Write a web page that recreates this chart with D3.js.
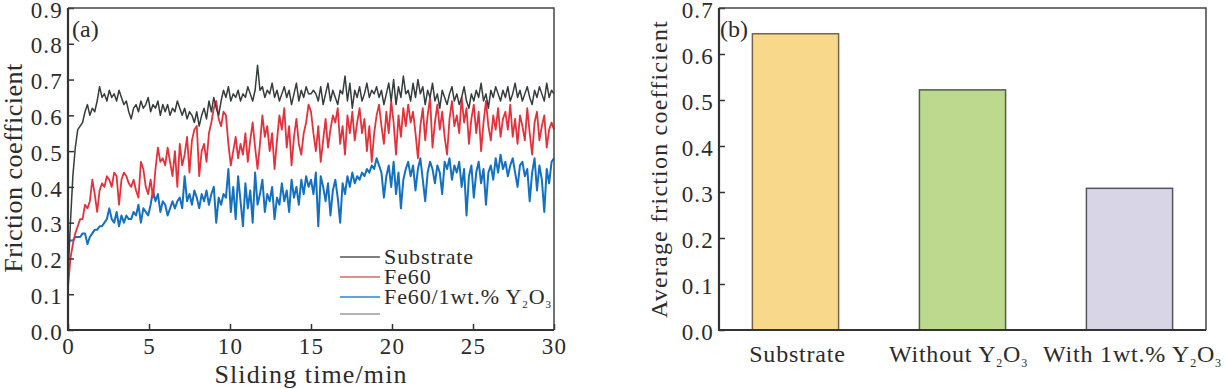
<!DOCTYPE html>
<html>
<head>
<meta charset="utf-8">
<title>Friction coefficient</title>
<script src="https://cdn.jsdelivr.net/npm/d3@7"></script>
<style>
    html, body { margin: 0; background: #fff; }
    svg { display: block; }
    text { font-family: "Liberation Serif", "Times New Roman", serif; fill: #2b2b2b; }
    .tick line { stroke: #333; stroke-width: 1.5; }
    .tick text { font-size: 23px; letter-spacing: 1.2px; }
</style>
</head>
<body>
<svg width="1226" height="389"></svg>
<script>
// (a) friction coefficient vs sliding time, one reading every 0.15 min
var timeStep = 0.15;

var substrate = [
    0.15, 0.30, 0.43, 0.51, 0.56, 0.57, 0.58, 0.61, 0.63, 0.60, 0.62, 0.61, 0.64, 0.68, 0.65, 0.66, 0.64, 0.67, 0.65, 0.66,
    0.64, 0.67, 0.65, 0.63, 0.64, 0.61, 0.59, 0.62, 0.63, 0.61, 0.64, 0.62, 0.63, 0.65, 0.61, 0.63, 0.62, 0.64, 0.60, 0.63,
    0.61, 0.63, 0.60, 0.62, 0.61, 0.64, 0.62, 0.60, 0.62, 0.59, 0.61, 0.60, 0.58, 0.61, 0.57, 0.60, 0.62, 0.59, 0.64, 0.61,
    0.65, 0.62, 0.60, 0.64, 0.67, 0.65, 0.68, 0.64, 0.66, 0.65, 0.67, 0.64, 0.66, 0.65, 0.68, 0.66, 0.64, 0.67, 0.74, 0.67,
    0.68, 0.65, 0.67, 0.66, 0.69, 0.65, 0.67, 0.64, 0.66, 0.68, 0.65, 0.67, 0.63, 0.66, 0.69, 0.64, 0.67, 0.65, 0.68, 0.66,
    0.66, 0.67, 0.66, 0.64, 0.68, 0.63, 0.66, 0.69, 0.64, 0.67, 0.65, 0.63, 0.67, 0.66, 0.71, 0.64, 0.69, 0.62, 0.67, 0.65,
    0.68, 0.64, 0.66, 0.69, 0.65, 0.67, 0.66, 0.68, 0.65, 0.67, 0.63, 0.66, 0.69, 0.64, 0.70, 0.63, 0.68, 0.65, 0.71, 0.66,
    0.67, 0.64, 0.69, 0.65, 0.70, 0.66, 0.68, 0.63, 0.67, 0.65, 0.69, 0.64, 0.66, 0.62, 0.67, 0.65, 0.63, 0.66, 0.68, 0.64,
    0.66, 0.63, 0.65, 0.68, 0.64, 0.62, 0.66, 0.64, 0.67, 0.65, 0.69, 0.64, 0.66, 0.62, 0.67, 0.65, 0.68, 0.66, 0.64, 0.67,
    0.65, 0.68, 0.64, 0.66, 0.69, 0.65, 0.67, 0.64, 0.66, 0.68, 0.65, 0.63, 0.67, 0.65, 0.68, 0.66, 0.64, 0.69, 0.65, 0.67,
    0.66
];

var fe60 = [
    0.12, 0.20, 0.24, 0.27, 0.29, 0.31, 0.31, 0.35, 0.34, 0.36, 0.42, 0.38, 0.33, 0.39, 0.41, 0.40, 0.43, 0.42, 0.40, 0.44,
    0.43, 0.35, 0.42, 0.44, 0.43, 0.41, 0.40, 0.42, 0.39, 0.37, 0.47, 0.45, 0.40, 0.38, 0.42, 0.37, 0.45, 0.51, 0.47, 0.48,
    0.46, 0.51, 0.47, 0.43, 0.50, 0.40, 0.52, 0.46, 0.49, 0.54, 0.44, 0.53, 0.56, 0.57, 0.43, 0.50, 0.52, 0.47, 0.55, 0.58,
    0.62, 0.64, 0.59, 0.57, 0.61, 0.60, 0.52, 0.46, 0.50, 0.54, 0.48, 0.52, 0.49, 0.55, 0.47, 0.53, 0.58, 0.51, 0.45, 0.52,
    0.60, 0.54, 0.57, 0.50, 0.55, 0.45, 0.53, 0.60, 0.56, 0.62, 0.51, 0.57, 0.46, 0.54, 0.59, 0.52, 0.49, 0.55, 0.58, 0.63,
    0.61, 0.55, 0.50, 0.57, 0.47, 0.53, 0.59, 0.51, 0.56, 0.60, 0.58, 0.62, 0.52, 0.57, 0.49, 0.60, 0.55, 0.61, 0.53, 0.58,
    0.62, 0.55, 0.59, 0.50, 0.57, 0.47, 0.55, 0.60, 0.63, 0.57, 0.52, 0.61, 0.55, 0.64, 0.58, 0.49, 0.60, 0.54, 0.62, 0.57,
    0.63, 0.58, 0.61, 0.55, 0.48, 0.57, 0.62, 0.53, 0.60, 0.65, 0.51, 0.58, 0.63, 0.56, 0.61, 0.54, 0.49, 0.59, 0.64, 0.57,
    0.60, 0.55, 0.65, 0.58, 0.62, 0.52, 0.59, 0.63, 0.55, 0.61, 0.50, 0.58, 0.64, 0.57, 0.53, 0.60, 0.56, 0.62, 0.54, 0.59,
    0.61, 0.56, 0.63, 0.54, 0.59, 0.52, 0.60, 0.57, 0.53, 0.62, 0.55, 0.49, 0.58, 0.61, 0.53, 0.57, 0.60, 0.51, 0.56, 0.58,
    0.56
];

var fe60Y2O3 = [
    0.25, 0.25, 0.25, 0.26, 0.26, 0.26, 0.27, 0.27, 0.24, 0.26, 0.27, 0.28, 0.28, 0.29, 0.29, 0.30, 0.31, 0.34, 0.31, 0.30,
    0.33, 0.29, 0.32, 0.30, 0.32, 0.31, 0.31, 0.33, 0.32, 0.35, 0.30, 0.34, 0.33, 0.32, 0.35, 0.39, 0.36, 0.38, 0.33, 0.36,
    0.35, 0.32, 0.34, 0.36, 0.34, 0.36, 0.37, 0.34, 0.43, 0.36, 0.38, 0.35, 0.39, 0.37, 0.34, 0.38, 0.36, 0.39, 0.35, 0.38,
    0.40, 0.30, 0.37, 0.35, 0.38, 0.37, 0.45, 0.33, 0.40, 0.31, 0.43, 0.36, 0.29, 0.41, 0.34, 0.39, 0.30, 0.44, 0.35, 0.38,
    0.42, 0.33, 0.38, 0.36, 0.40, 0.31, 0.37, 0.35, 0.41, 0.36, 0.39, 0.33, 0.42, 0.37, 0.40, 0.35, 0.42, 0.38, 0.43, 0.40,
    0.42, 0.38, 0.44, 0.29, 0.43, 0.40, 0.36, 0.41, 0.32, 0.39, 0.42, 0.37, 0.30, 0.41, 0.38, 0.43, 0.40, 0.44, 0.41, 0.43,
    0.42, 0.44, 0.43, 0.45, 0.44, 0.46, 0.45, 0.48, 0.46, 0.44, 0.37, 0.43, 0.46, 0.40, 0.47, 0.38, 0.44, 0.34, 0.42, 0.45,
    0.47, 0.43, 0.46, 0.39, 0.45, 0.48, 0.42, 0.36, 0.44, 0.47, 0.45, 0.41, 0.46, 0.44, 0.38, 0.47, 0.45, 0.48, 0.42, 0.46,
    0.44, 0.47, 0.40, 0.45, 0.32, 0.43, 0.46, 0.37, 0.44, 0.47, 0.41, 0.45, 0.35, 0.44, 0.46, 0.42, 0.48, 0.44, 0.49, 0.45,
    0.47, 0.43, 0.46, 0.48, 0.44, 0.40, 0.46, 0.47, 0.43, 0.45, 0.36, 0.44, 0.48, 0.39, 0.46, 0.42, 0.33, 0.45, 0.41, 0.47,
    0.48
];

// (b) average friction coefficient
var samples = ["Substrate", "Without", "With"];
var averages = [0.644, 0.522, 0.308];

var xTicksA = [0, 5, 10, 15, 20, 25, 30];
var yTicksA = [0, 0.1, 0.2, 0.3, 0.4, 0.5, 0.6, 0.7, 0.8, 0.9];
var yTicksB = [0, 0.1, 0.2, 0.3, 0.4, 0.5, 0.6, 0.7];

var svg = d3.select("svg");
var fmt = d3.format(".1f");

// writes text with subscripts: parts = [[text, isSub], ...]
function richText(sel, parts, size) {
    parts.forEach(function (p, i) {
        var prev = i > 0 ? parts[i - 1][1] : 0;
        var t = sel.append("tspan").text(p[0]);
        if (p[1]) t.attr("font-size", size * 0.5).attr("dy", size * 0.2);
        else if (prev) t.attr("font-size", size).attr("dy", -size * 0.2);
    });
}

/* ---------- panel (a) ---------- */
var ax = {left: 68, right: 554, top: 8, bottom: 330};

var x = d3.scaleLinear().domain([0, 30]).range([ax.left, ax.right]);
var yA = d3.scaleLinear().domain([0, 0.9]).range([ax.bottom, ax.top]);

var series = [
    {name: "Substrate", values: substrate, color: "#343d3b", legend: "#555", width: 1.5},
    {name: "Fe60", values: fe60, color: "#e4313a", legend: "#d9676b", width: 1.8},
    {name: "Fe60Y", values: fe60Y2O3, color: "#1470c0", legend: "#2a86d4", width: 2}
];

var line = d3.line()
    .x(function (d, i) { return x(i * timeStep); })
    .y(function (d) { return yA(d); });

var gA = svg.append("g");

series.slice().reverse().forEach(function (s) {
    gA.append("path")
        .datum(s.values)
        .attr("fill", "none")
        .attr("stroke", s.color)
        .attr("stroke-width", s.width)
        .attr("stroke-linejoin", "round")
        .attr("d", line);
});

gA.append("g")
    .attr("transform", "translate(0," + ax.bottom + ")")
    .call(d3.axisBottom(x).tickValues(xTicksA).tickSizeInner(-6).tickSizeOuter(0).tickPadding(8))
    .call(function (g) { g.select(".domain").remove(); });

gA.append("g")
    .attr("transform", "translate(" + ax.left + ",0)")
    .call(d3.axisLeft(yA).tickValues(yTicksA).tickFormat(fmt).tickSizeInner(-6).tickSizeOuter(0).tickPadding(5))
    .call(function (g) {
        g.select(".domain").remove();
        g.selectAll(".tick text").attr("dy", "0.4em");
    });

// frame
gA.append("path")
    .attr("d", "M" + ax.left + "," + ax.top + "H" + ax.right + "V" + ax.bottom)
    .attr("fill", "none").attr("stroke", "#444").attr("stroke-width", 1.5);
gA.append("path")
    .attr("d", "M" + ax.left + "," + ax.top + "V" + ax.bottom + "H" + ax.right)
    .attr("fill", "none").attr("stroke", "#333").attr("stroke-width", 2.2);

gA.append("text").attr("x", 72).attr("y", 37).attr("font-size", 24).text("(a)");

gA.append("text")
    .attr("x", (ax.left + ax.right) / 2).attr("y", 383)
    .attr("text-anchor", "middle").attr("font-size", 26).attr("letter-spacing", 1.1)
    .text("Sliding time/min");

gA.append("text")
    .attr("transform", "translate(22," + 168 + ") rotate(-90)")
    .attr("text-anchor", "middle").attr("font-size", 26).attr("letter-spacing", 0.5)
    .text("Friction coefficient");

// legend
var legY = [257, 277, 297, 314];
var legLabels = [
    [["Substrate", 0]],
    [["Fe60", 0]],
    [["Fe60/1wt.% Y", 0], ["2", 1], ["O", 0], ["3", 1]]
];
var legColors = series.map(function (s) { return s.legend; }).concat(["#9a9a9a"]);

legY.forEach(function (ly, i) {
    gA.append("line")
        .attr("x1", 340).attr("x2", 380).attr("y1", ly).attr("y2", ly)
        .attr("stroke", legColors[i]).attr("stroke-width", 1.3);
    if (legLabels[i]) {
        var t = gA.append("text")
            .attr("x", 384).attr("y", ly + 7)
            .attr("font-size", 22).attr("letter-spacing", 0.9);
        richText(t, legLabels[i], 22);
    }
});

/* ---------- panel (b) ---------- */
var bx = {left: 719, right: 1206, top: 8, bottom: 330};

var xB = d3.scaleBand().domain(samples).range([bx.left, bx.right])
    .paddingInner(0.484).paddingOuter(0.2);
var yB = d3.scaleLinear().domain([0, 0.7]).range([bx.bottom, bx.top]);

var barFill = {Substrate: "#f8d98b", Without: "#bdd98e", With: "#d8d5e7"};
var barStroke = {Substrate: "#7a6448", Without: "#4d5f47", With: "#55555f"};

var gB = svg.append("g");

gB.selectAll("rect.bar")
    .data(samples)
    .enter().append("rect")
    .attr("class", "bar")
    .attr("x", function (d) { return xB(d); })
    .attr("width", xB.bandwidth())
    .attr("y", function (d, i) { return yB(averages[i]); })
    .attr("height", function (d, i) { return yB(0) - yB(averages[i]); })
    .attr("fill", function (d) { return barFill[d]; })
    .attr("stroke", function (d) { return barStroke[d]; })
    .attr("stroke-width", 1.5);

gB.append("g")
    .attr("transform", "translate(" + bx.left + ",0)")
    .call(d3.axisLeft(yB).tickValues(yTicksB).tickFormat(fmt).tickSizeInner(-6).tickSizeOuter(0).tickPadding(5))
    .call(function (g) {
        g.select(".domain").remove();
        g.selectAll(".tick text").attr("dy", "0.4em");
    });

gB.append("path")
    .attr("d", "M" + bx.left + "," + bx.top + "H" + bx.right + "V" + bx.bottom)
    .attr("fill", "none").attr("stroke", "#444").attr("stroke-width", 1.5);
gB.append("path")
    .attr("d", "M" + bx.left + "," + bx.top + "V" + bx.bottom + "H" + bx.right)
    .attr("fill", "none").attr("stroke", "#333").attr("stroke-width", 2.2);

var catLabels = {
    Substrate: [["Substrate", 0]],
    Without: [["Without Y", 0], ["2", 1], ["O", 0], ["3", 1]],
    With: [["With 1wt.% Y", 0], ["2", 1], ["O", 0], ["3", 1]]
};
var catShift = {Substrate: 2, Without: -4, With: 3};

samples.forEach(function (d) {
    var t = gB.append("text")
        .attr("x", xB(d) + xB.bandwidth() / 2 + catShift[d]).attr("y", 362)
        .attr("text-anchor", "middle").attr("font-size", 24).attr("letter-spacing", 0.8);
    richText(t, catLabels[d], 24);
});

gB.append("text").attr("x", 720).attr("y", 37).attr("font-size", 24).text("(b)");

gB.append("text")
    .attr("transform", "translate(667," + 169 + ") rotate(-90)")
    .attr("text-anchor", "middle").attr("font-size", 24).attr("letter-spacing", 1.2)
    .text("Average friction coefficient");
</script>
</body>
</html>
